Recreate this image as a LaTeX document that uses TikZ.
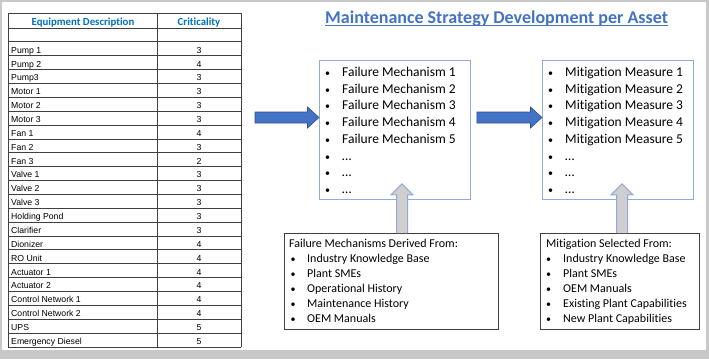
\documentclass[tikz,border=0pt]{standalone}
\usepackage{fontspec}
\setmainfont{Carlito}[Ligatures=NoCommon]
\newfontfamily\arialf{Liberation Sans}
\usetikzlibrary{calc}
\definecolor{framegray}{HTML}{C8C8C8}
\definecolor{hdrblue}{HTML}{0070C0}
\definecolor{titleblue}{HTML}{4472C4}
\definecolor{boxblue}{HTML}{8FAADC}
\definecolor{arrowfill}{HTML}{4472C4}
\definecolor{arrowline}{HTML}{2F528F}
\definecolor{grayfill}{HTML}{D0CECE}
\definecolor{tblline}{HTML}{404040}
\begin{document}
\begin{tikzpicture}[x=1pt,y=-1pt,
 tline/.style={draw=tblline,line width=0.9pt},
 cell/.style={anchor=base west,inner sep=0,font=\arialf\fontsize{8.7}{10}\selectfont},
 crit/.style={anchor=base,inner sep=0,font=\arialf\fontsize{8.7}{10}\selectfont},
 hdr/.style={anchor=base,inner sep=0,text=hdrblue,font=\bfseries\fontsize{10.8}{12}\selectfont},
 ubox/.style={draw=boxblue,line width=0.9pt,fill=white,anchor=north west,inner sep=0},
 lbox/.style={draw=tblline,line width=1pt,fill=white,anchor=north west,inner sep=0},
 big/.style={anchor=base west,inner sep=0,font=\fontsize{13.5}{16}\selectfont},
 small/.style={anchor=base west,inner sep=0,font=\fontsize{12}{14}\selectfont},
 bul/.style={anchor=base,inner sep=0,font=\fontsize{10}{12}\selectfont},
 bluearrow/.style={fill=arrowfill,draw=arrowline,line width=0.6pt,line join=miter},
 grayarrow/.style={fill=grayfill,draw=boxblue,line width=1pt,line join=miter}]

\fill[framegray] (0,0) rectangle (709,359);
\fill[white] (2,2) rectangle (706,350);
\useasboundingbox (0,0) rectangle (709,359);

% ---------- table ----------
\draw[tline] (8,13) -- (241,13);
\foreach \k in {0,...,23} \draw[tline] (8,{28+13.87*\k}) -- (241,{28+13.87*\k});
\draw[tline] (8,13) -- (8,347.01);
\draw[tline] (157,13) -- (157,347.01);
\draw[tline] (241,13) -- (241,347.01);
\node[hdr] (hdesc) at (83,25.5) {Equipment Description};
\node[hdr] (hcrit) at (199,25.5) {Criticality};
\foreach \nm/\vl [count=\i] in {Pump 1/3,Pump 2/4,Pump3/3,Motor 1/3,Motor 2/3,Motor 3/3,Fan 1/4,Fan 2/3,Fan 3/2,Valve 1/3,Valve 2/3,Valve 3/3,Holding Pond/3,Clarifier/3,Dionizer/4,RO Unit/4,Actuator 1/4,Actuator 2/4,Control Network 1/4,Control Network 2/4,UPS/5,Emergency Diesel/5}{
  \node[cell] (eq\i) at (11,{41.87+13.87*\i-2.6}) {\nm};
  \node[crit] (cr\i) at (199,{41.87+13.87*\i-2.6}) {\vl};
}

% ---------- title ----------
\node[anchor=base west,inner sep=0,text=titleblue,font=\bfseries\fontsize{18}{22}\selectfont] (title) at (325,23.3) {Maintenance Strategy Development per Asset};
\draw[titleblue,line width=1pt] ($(title.base west)+(0,1.8)$) -- ($(title.base east)+(0,1.8)$);

% ---------- boxes ----------
\node[ubox,minimum width=151,minimum height=139] (fm) at (319,60) {};
\node[ubox,minimum width=151,minimum height=139] (mm) at (542,60) {};
\node[lbox,minimum width=214,minimum height=96] (src1) at (284,233) {};
\node[lbox,minimum width=159,minimum height=96] (src2) at (540,233) {};

\foreach \txt [count=\i] in {Failure Mechanism 1,Failure Mechanism 2,Failure Mechanism 3,Failure Mechanism 4,Failure Mechanism 5,…,…,…}{
  \node[bul] (fb\i) at (327.5,{76.5+16.7*(\i-1)}) {•};
  \node[big] (ft\i) at (342,{76.5+16.7*(\i-1)}) {\txt};
}
\foreach \txt [count=\i] in {Mitigation Measure 1,Mitigation Measure 2,Mitigation Measure 3,Mitigation Measure 4,Mitigation Measure 5,…,…,…}{
  \node[bul] (mb\i) at (550.5,{76.5+16.7*(\i-1)}) {•};
  \node[big] (mt\i) at (565,{76.5+16.7*(\i-1)}) {\txt};
}

\node[small] (sh1) at (289,247) {Failure Mechanisms Derived From:};
\foreach \txt [count=\i] in {Industry Knowledge Base,Plant SMEs,Operational History,Maintenance History,OEM Manuals}{
  \node[bul] (sb\i) at (293,{247+15*\i}) {•};
  \node[small] (st\i) at (307,{247+15*\i}) {\txt};
}
\node[small] (sh2) at (546,247) {Mitigation Selected From:};
\foreach \txt [count=\i] in {Industry Knowledge Base,Plant SMEs,OEM Manuals,Existing Plant Capabilities,New Plant Capabilities}{
  \node[bul] (pb\i) at (548.5,{247+15*\i}) {•};
  \node[small] (pt\i) at (563,{247+15*\i}) {\txt};
}

% ---------- blue arrows ----------
\coordinate (a1t) at (255,117.5);
\coordinate (a1h) at (fm.west |- a1t);
\draw[bluearrow] ($(a1t)+(0,-5.5)$) -- ($(a1h)+(-11.5,-5.5)$) -- ($(a1h)+(-11.5,-10.5)$) -- (a1h)
  -- ($(a1h)+(-11.5,10.5)$) -- ($(a1h)+(-11.5,5.5)$) -- ($(a1t)+(0,5.5)$) -- cycle;
\coordinate (a2t) at ($(fm.east |- a1t)+(6,0)$);
\coordinate (a2h) at (mm.west |- a1t);
\draw[bluearrow] ($(a2t)+(0,-5.5)$) -- ($(a2h)+(-11.5,-5.5)$) -- ($(a2h)+(-11.5,-10.5)$) -- (a2h)
  -- ($(a2h)+(-11.5,10.5)$) -- ($(a2h)+(-11.5,5.5)$) -- ($(a2t)+(0,5.5)$) -- cycle;

% ---------- gray arrows ----------
\coordinate (g1b) at ($(src1.north west)+(118,0)$);
\coordinate (g1t) at ($(g1b |- fm.south)+(0,-16)$);
\draw[grayarrow] ($(g1b)+(-5.5,0)$) -- ($(g1t)+(-5.5,11)$) -- ($(g1t)+(-11,11)$) -- (g1t)
  -- ($(g1t)+(11,11)$) -- ($(g1t)+(5.5,11)$) -- ($(g1b)+(5.5,0)$);
\coordinate (g2b) at ($(src2.north west)+(82,0)$);
\coordinate (g2t) at ($(g2b |- mm.south)+(0,-16)$);
\draw[grayarrow] ($(g2b)+(-5.5,0)$) -- ($(g2t)+(-5.5,11)$) -- ($(g2t)+(-11,11)$) -- (g2t)
  -- ($(g2t)+(11,11)$) -- ($(g2t)+(5.5,11)$) -- ($(g2b)+(5.5,0)$);
\end{tikzpicture}
\end{document}
